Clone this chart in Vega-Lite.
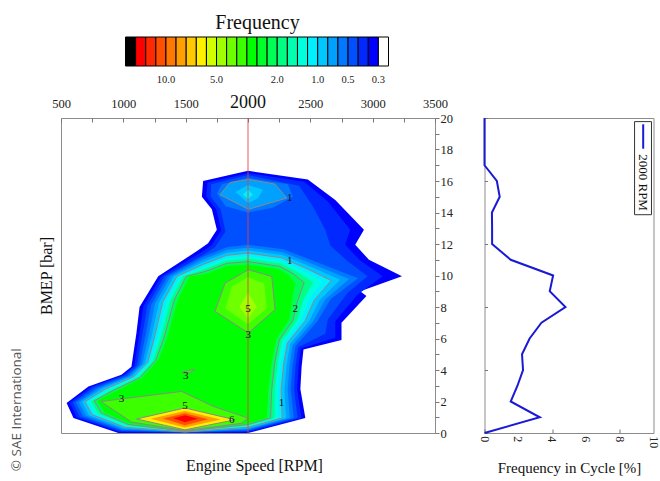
{
  "$schema": "https://vega.github.io/schema/vega-lite/v6.json",
  "background": "white",
  "padding": {"left": 9, "top": 13, "right": 5, "bottom": 5},
  "config": {
    "font": "Liberation Serif",
    "axis": {"grid": false, "labelColor": "#222", "titleColor": "#111", "titleFontWeight": "normal", "tickColor": "#777", "labelFlush": false, "labelOverlap": false},
    "view": {"stroke": "#8c8c8c"}
  },
  "datasets": {
    "poly": [
      {"p":"a01","r":24,"o":1,"x":545,"y":1.9},{"p":"a01","r":24,"o":2,"x":600,"y":0.95},{"p":"a01","r":24,"o":3,"x":960,"y":0},{"p":"a01","r":24,"o":4,"x":2000,"y":0},{"p":"a01","r":24,"o":5,"x":2460,"y":0.95},{"p":"a01","r":24,"o":6,"x":2420,"y":2.8},{"p":"a01","r":24,"o":7,"x":2430,"y":4.2},{"p":"a01","r":24,"o":8,"x":2445,"y":5.3},{"p":"a01","r":24,"o":9,"x":2750,"y":5.9},{"p":"a01","r":24,"o":10,"x":2750,"y":7.0},{"p":"a01","r":24,"o":11,"x":2950,"y":8.7},{"p":"a01","r":24,"o":12,"x":2900,"y":9.0},{"p":"a01","r":24,"o":13,"x":3235,"y":9.95},{"p":"a01","r":24,"o":14,"x":2970,"y":11.0},{"p":"a01","r":24,"o":15,"x":2860,"y":11.95},{"p":"a01","r":24,"o":16,"x":2930,"y":12.9},{"p":"a01","r":24,"o":17,"x":2700,"y":14.8},{"p":"a01","r":24,"o":18,"x":2480,"y":16.1},{"p":"a01","r":24,"o":19,"x":2000,"y":16.65},{"p":"a01","r":24,"o":20,"x":1640,"y":16.0},{"p":"a01","r":24,"o":21,"x":1630,"y":15.0},{"p":"a01","r":24,"o":22,"x":1710,"y":14.2},{"p":"a01","r":24,"o":23,"x":1750,"y":12.9},{"p":"a01","r":24,"o":24,"x":1680,"y":12.05},{"p":"a01","r":24,"o":25,"x":1600,"y":11.6},{"p":"a01","r":24,"o":26,"x":1280,"y":9.95},{"p":"a01","r":24,"o":27,"x":1130,"y":8.0},{"p":"a01","r":24,"o":28,"x":1105,"y":6.35},{"p":"a01","r":24,"o":29,"x":1065,"y":4.2},{"p":"a01","r":24,"o":30,"x":985,"y":3.7},{"p":"a01","r":24,"o":31,"x":720,"y":2.95},
      {"p":"a02","r":23,"o":1,"x":570,"y":1.92},{"p":"a02","r":23,"o":2,"x":625,"y":0.99},{"p":"a02","r":23,"o":3,"x":969,"y":0.06},{"p":"a02","r":23,"o":4,"x":1494,"y":0.01},{"p":"a02","r":23,"o":5,"x":2000,"y":0.06},{"p":"a02","r":23,"o":6,"x":2429,"y":0.95},{"p":"a02","r":23,"o":7,"x":2394,"y":2.8},{"p":"a02","r":23,"o":8,"x":2406,"y":4.23},{"p":"a02","r":23,"o":9,"x":2424,"y":5.37},{"p":"a02","r":23,"o":10,"x":2700,"y":6.05},{"p":"a02","r":23,"o":11,"x":2700,"y":7.1},{"p":"a02","r":23,"o":12,"x":2880,"y":8.8},{"p":"a02","r":23,"o":13,"x":3080,"y":9.95},{"p":"a02","r":23,"o":14,"x":2900,"y":10.95},{"p":"a02","r":23,"o":15,"x":2780,"y":11.95},{"p":"a02","r":23,"o":16,"x":2820,"y":12.9},{"p":"a02","r":23,"o":17,"x":2640,"y":14.7},{"p":"a02","r":23,"o":18,"x":2450,"y":15.95},{"p":"a02","r":23,"o":19,"x":2000,"y":16.5},{"p":"a02","r":23,"o":20,"x":1675,"y":15.9},{"p":"a02","r":23,"o":21,"x":1665,"y":15.0},{"p":"a02","r":23,"o":22,"x":1745,"y":14.2},{"p":"a02","r":23,"o":23,"x":1785,"y":12.85},{"p":"a02","r":23,"o":24,"x":1705,"y":11.9},{"p":"a02","r":23,"o":25,"x":1620,"y":11.45},{"p":"a02","r":23,"o":26,"x":1305,"y":9.95},{"p":"a02","r":23,"o":27,"x":1161,"y":8.05},{"p":"a02","r":23,"o":28,"x":1130,"y":6.32},{"p":"a02","r":23,"o":29,"x":1087,"y":4.25},{"p":"a02","r":23,"o":30,"x":1002,"y":3.68},{"p":"a02","r":23,"o":31,"x":743,"y":2.93},
      {"p":"a03","r":22,"o":1,"x":594,"y":1.93},{"p":"a03","r":22,"o":2,"x":650,"y":1.02},{"p":"a03","r":22,"o":3,"x":978,"y":0.12},{"p":"a03","r":22,"o":4,"x":1494,"y":0.02},{"p":"a03","r":22,"o":5,"x":2000,"y":0.12},{"p":"a03","r":22,"o":6,"x":2398,"y":0.95},{"p":"a03","r":22,"o":7,"x":2369,"y":2.79},{"p":"a03","r":22,"o":8,"x":2382,"y":4.26},{"p":"a03","r":22,"o":9,"x":2402,"y":5.44},{"p":"a03","r":22,"o":10,"x":2620,"y":6.3},{"p":"a03","r":22,"o":11,"x":2640,"y":7.2},{"p":"a03","r":22,"o":12,"x":2800,"y":8.9},{"p":"a03","r":22,"o":13,"x":2960,"y":9.95},{"p":"a03","r":22,"o":14,"x":2800,"y":10.9},{"p":"a03","r":22,"o":15,"x":2660,"y":11.9},{"p":"a03","r":22,"o":16,"x":2620,"y":12.9},{"p":"a03","r":22,"o":17,"x":2520,"y":14.4},{"p":"a03","r":22,"o":18,"x":2410,"y":15.7},{"p":"a03","r":22,"o":19,"x":2000,"y":16.38},{"p":"a03","r":22,"o":20,"x":1705,"y":15.8},{"p":"a03","r":22,"o":21,"x":1700,"y":15.0},{"p":"a03","r":22,"o":22,"x":1780,"y":14.2},{"p":"a03","r":22,"o":23,"x":1820,"y":12.8},{"p":"a03","r":22,"o":24,"x":1735,"y":11.8},{"p":"a03","r":22,"o":25,"x":1640,"y":11.3},{"p":"a03","r":22,"o":26,"x":1330,"y":9.95},{"p":"a03","r":22,"o":27,"x":1192,"y":8.1},{"p":"a03","r":22,"o":28,"x":1154,"y":6.28},{"p":"a03","r":22,"o":29,"x":1108,"y":4.29},{"p":"a03","r":22,"o":30,"x":1018,"y":3.66},{"p":"a03","r":22,"o":31,"x":766,"y":2.9},
      {"p":"a04","r":21,"o":1,"x":1750,"y":15.2},{"p":"a04","r":21,"o":2,"x":1790,"y":15.8},{"p":"a04","r":21,"o":3,"x":2000,"y":16.2},{"p":"a04","r":21,"o":4,"x":2320,"y":15.8},{"p":"a04","r":21,"o":5,"x":2360,"y":15.0},{"p":"a04","r":21,"o":6,"x":2200,"y":14.3},{"p":"a04","r":21,"o":7,"x":2000,"y":14.0},{"p":"a04","r":21,"o":8,"x":1820,"y":14.4},
      {"p":"a05","r":20,"o":1,"x":1775,"y":15.13},{"p":"a05","r":20,"o":2,"x":1856,"y":15.9},{"p":"a05","r":20,"o":3,"x":2004,"y":16.1},{"p":"a05","r":20,"o":4,"x":2217,"y":15.8},{"p":"a05","r":20,"o":5,"x":2311,"y":14.92},{"p":"a05","r":20,"o":6,"x":2004,"y":14.2},
      {"p":"a06","r":19,"o":1,"x":1900,"y":15.3},{"p":"a06","r":19,"o":2,"x":2000,"y":15.75},{"p":"a06","r":19,"o":3,"x":2120,"y":15.45},{"p":"a06","r":19,"o":4,"x":2080,"y":14.9},{"p":"a06","r":19,"o":5,"x":2000,"y":14.6},
      {"p":"a07","r":18,"o":1,"x":1960,"y":15.15},{"p":"a07","r":18,"o":2,"x":2000,"y":15.45},{"p":"a07","r":18,"o":3,"x":2040,"y":15.15},{"p":"a07","r":18,"o":4,"x":2000,"y":14.85},
      {"p":"a08","r":21,"o":1,"x":619,"y":1.95},{"p":"a08","r":21,"o":2,"x":675,"y":1.06},{"p":"a08","r":21,"o":3,"x":987,"y":0.18},{"p":"a08","r":21,"o":4,"x":1494,"y":0.04},{"p":"a08","r":21,"o":5,"x":2000,"y":0.18},{"p":"a08","r":21,"o":6,"x":2367,"y":0.95},{"p":"a08","r":21,"o":7,"x":2343,"y":2.79},{"p":"a08","r":21,"o":8,"x":2358,"y":4.29},{"p":"a08","r":21,"o":9,"x":2381,"y":5.51},{"p":"a08","r":21,"o":10,"x":2554,"y":7.06},{"p":"a08","r":21,"o":11,"x":2665,"y":8.51},{"p":"a08","r":21,"o":12,"x":2883,"y":9.82},{"p":"a08","r":21,"o":13,"x":2554,"y":10.84},{"p":"a08","r":21,"o":14,"x":2285,"y":11.66},{"p":"a08","r":21,"o":15,"x":2000,"y":11.96},{"p":"a08","r":21,"o":16,"x":1830,"y":11.79},{"p":"a08","r":21,"o":17,"x":1625,"y":11.15},{"p":"a08","r":21,"o":18,"x":1355,"y":9.95},{"p":"a08","r":21,"o":19,"x":1223,"y":8.15},{"p":"a08","r":21,"o":20,"x":1179,"y":6.25},{"p":"a08","r":21,"o":21,"x":1130,"y":4.34},{"p":"a08","r":21,"o":22,"x":1035,"y":3.64},{"p":"a08","r":21,"o":23,"x":789,"y":2.88},
      {"p":"a09","r":20,"o":1,"x":643,"y":1.96},{"p":"a09","r":20,"o":2,"x":700,"y":1.09},{"p":"a09","r":20,"o":3,"x":996,"y":0.24},{"p":"a09","r":20,"o":4,"x":1494,"y":0.05},{"p":"a09","r":20,"o":5,"x":2000,"y":0.24},{"p":"a09","r":20,"o":6,"x":2336,"y":0.95},{"p":"a09","r":20,"o":7,"x":2318,"y":2.78},{"p":"a09","r":20,"o":8,"x":2334,"y":4.32},{"p":"a09","r":20,"o":9,"x":2359,"y":5.58},{"p":"a09","r":20,"o":10,"x":2522,"y":7.08},{"p":"a09","r":20,"o":11,"x":2620,"y":8.48},{"p":"a09","r":20,"o":12,"x":2811,"y":9.77},{"p":"a09","r":20,"o":13,"x":2522,"y":10.72},{"p":"a09","r":20,"o":14,"x":2280,"y":11.48},{"p":"a09","r":20,"o":15,"x":2000,"y":11.78},{"p":"a09","r":20,"o":16,"x":1830,"y":11.62},{"p":"a09","r":20,"o":17,"x":1630,"y":11.0},{"p":"a09","r":20,"o":18,"x":1380,"y":9.95},{"p":"a09","r":20,"o":19,"x":1254,"y":8.2},{"p":"a09","r":20,"o":20,"x":1203,"y":6.21},{"p":"a09","r":20,"o":21,"x":1151,"y":4.38},{"p":"a09","r":20,"o":22,"x":1051,"y":3.62},{"p":"a09","r":20,"o":23,"x":812,"y":2.85},
      {"p":"a10","r":19,"o":1,"x":668,"y":1.98},{"p":"a10","r":19,"o":2,"x":725,"y":1.13},{"p":"a10","r":19,"o":3,"x":1005,"y":0.3},{"p":"a10","r":19,"o":4,"x":1494,"y":0.06},{"p":"a10","r":19,"o":5,"x":2000,"y":0.3},{"p":"a10","r":19,"o":6,"x":2305,"y":0.95},{"p":"a10","r":19,"o":7,"x":2292,"y":2.78},{"p":"a10","r":19,"o":8,"x":2310,"y":4.35},{"p":"a10","r":19,"o":9,"x":2338,"y":5.65},{"p":"a10","r":19,"o":10,"x":2490,"y":7.1},{"p":"a10","r":19,"o":11,"x":2575,"y":8.45},{"p":"a10","r":19,"o":12,"x":2739,"y":9.73},{"p":"a10","r":19,"o":13,"x":2490,"y":10.6},{"p":"a10","r":19,"o":14,"x":2275,"y":11.3},{"p":"a10","r":19,"o":15,"x":2000,"y":11.6},{"p":"a10","r":19,"o":16,"x":1830,"y":11.45},{"p":"a10","r":19,"o":17,"x":1635,"y":10.85},{"p":"a10","r":19,"o":18,"x":1405,"y":9.95},{"p":"a10","r":19,"o":19,"x":1285,"y":8.25},{"p":"a10","r":19,"o":20,"x":1228,"y":6.18},{"p":"a10","r":19,"o":21,"x":1173,"y":4.43},{"p":"a10","r":19,"o":22,"x":1068,"y":3.6},{"p":"a10","r":19,"o":23,"x":835,"y":2.83},
      {"p":"a11","r":18,"o":1,"x":692,"y":1.99},{"p":"a11","r":18,"o":2,"x":750,"y":1.16},{"p":"a11","r":18,"o":3,"x":1014,"y":0.36},{"p":"a11","r":18,"o":4,"x":1494,"y":0.07},{"p":"a11","r":18,"o":5,"x":2000,"y":0.36},{"p":"a11","r":18,"o":6,"x":2274,"y":0.95},{"p":"a11","r":18,"o":7,"x":2266,"y":2.77},{"p":"a11","r":18,"o":8,"x":2286,"y":4.38},{"p":"a11","r":18,"o":9,"x":2316,"y":5.72},{"p":"a11","r":18,"o":10,"x":2458,"y":7.12},{"p":"a11","r":18,"o":11,"x":2530,"y":8.42},{"p":"a11","r":18,"o":12,"x":2667,"y":9.68},{"p":"a11","r":18,"o":13,"x":2458,"y":10.48},{"p":"a11","r":18,"o":14,"x":2270,"y":11.12},{"p":"a11","r":18,"o":15,"x":2000,"y":11.42},{"p":"a11","r":18,"o":16,"x":1830,"y":11.28},{"p":"a11","r":18,"o":17,"x":1640,"y":10.7},{"p":"a11","r":18,"o":18,"x":1430,"y":9.95},{"p":"a11","r":18,"o":19,"x":1316,"y":8.3},{"p":"a11","r":18,"o":20,"x":1252,"y":6.14},{"p":"a11","r":18,"o":21,"x":1195,"y":4.47},{"p":"a11","r":18,"o":22,"x":1084,"y":3.58},{"p":"a11","r":18,"o":23,"x":858,"y":2.8},
      {"p":"a12","r":17,"o":1,"x":717,"y":2.0},{"p":"a12","r":17,"o":2,"x":775,"y":1.2},{"p":"a12","r":17,"o":3,"x":1023,"y":0.42},{"p":"a12","r":17,"o":4,"x":1494,"y":0.08},{"p":"a12","r":17,"o":5,"x":2000,"y":0.42},{"p":"a12","r":17,"o":6,"x":2243,"y":0.95},{"p":"a12","r":17,"o":7,"x":2241,"y":2.77},{"p":"a12","r":17,"o":8,"x":2262,"y":4.41},{"p":"a12","r":17,"o":9,"x":2295,"y":5.79},{"p":"a12","r":17,"o":10,"x":2426,"y":7.14},{"p":"a12","r":17,"o":11,"x":2485,"y":8.39},{"p":"a12","r":17,"o":12,"x":2595,"y":9.64},{"p":"a12","r":17,"o":13,"x":2426,"y":10.36},{"p":"a12","r":17,"o":14,"x":2265,"y":10.94},{"p":"a12","r":17,"o":15,"x":2000,"y":11.24},{"p":"a12","r":17,"o":16,"x":1830,"y":11.11},{"p":"a12","r":17,"o":17,"x":1645,"y":10.55},{"p":"a12","r":17,"o":18,"x":1455,"y":9.95},{"p":"a12","r":17,"o":19,"x":1347,"y":8.35},{"p":"a12","r":17,"o":20,"x":1277,"y":6.11},{"p":"a12","r":17,"o":21,"x":1216,"y":4.52},{"p":"a12","r":17,"o":22,"x":1101,"y":3.56},{"p":"a12","r":17,"o":23,"x":881,"y":2.78},
      {"p":"a13","r":15,"o":1,"x":741,"y":2.02},{"p":"a13","r":15,"o":2,"x":800,"y":1.23},{"p":"a13","r":15,"o":3,"x":1032,"y":0.48},{"p":"a13","r":15,"o":4,"x":1494,"y":0.1},{"p":"a13","r":15,"o":5,"x":2000,"y":0.48},{"p":"a13","r":15,"o":6,"x":2212,"y":0.95},{"p":"a13","r":15,"o":7,"x":2215,"y":2.76},{"p":"a13","r":15,"o":8,"x":2238,"y":4.44},{"p":"a13","r":15,"o":9,"x":2273,"y":5.86},{"p":"a13","r":15,"o":10,"x":2394,"y":7.16},{"p":"a13","r":15,"o":11,"x":2440,"y":8.36},{"p":"a13","r":15,"o":12,"x":2522,"y":9.59},{"p":"a13","r":15,"o":13,"x":2394,"y":10.24},{"p":"a13","r":15,"o":14,"x":2260,"y":10.76},{"p":"a13","r":15,"o":15,"x":2000,"y":11.06},{"p":"a13","r":15,"o":16,"x":1830,"y":10.94},{"p":"a13","r":15,"o":17,"x":1650,"y":10.4},{"p":"a13","r":15,"o":18,"x":1480,"y":9.95},{"p":"a13","r":15,"o":19,"x":1378,"y":8.4},{"p":"a13","r":15,"o":20,"x":1301,"y":6.07},{"p":"a13","r":15,"o":21,"x":1238,"y":4.56},{"p":"a13","r":15,"o":22,"x":1117,"y":3.54},{"p":"a13","r":15,"o":23,"x":904,"y":2.75},
      {"p":"a14","r":14,"o":1,"x":766,"y":2.04},{"p":"a14","r":14,"o":2,"x":825,"y":1.27},{"p":"a14","r":14,"o":3,"x":1041,"y":0.54},{"p":"a14","r":14,"o":4,"x":1494,"y":0.11},{"p":"a14","r":14,"o":5,"x":2000,"y":0.54},{"p":"a14","r":14,"o":6,"x":2181,"y":0.95},{"p":"a14","r":14,"o":7,"x":2190,"y":2.76},{"p":"a14","r":14,"o":8,"x":2214,"y":4.47},{"p":"a14","r":14,"o":9,"x":2252,"y":5.93},{"p":"a14","r":14,"o":10,"x":2362,"y":7.18},{"p":"a14","r":14,"o":11,"x":2395,"y":8.33},{"p":"a14","r":14,"o":12,"x":2450,"y":9.55},{"p":"a14","r":14,"o":13,"x":2362,"y":10.12},{"p":"a14","r":14,"o":14,"x":2255,"y":10.58},{"p":"a14","r":14,"o":15,"x":2000,"y":10.88},{"p":"a14","r":14,"o":16,"x":1830,"y":10.77},{"p":"a14","r":14,"o":17,"x":1655,"y":10.25},{"p":"a14","r":14,"o":18,"x":1505,"y":9.95},{"p":"a14","r":14,"o":19,"x":1409,"y":8.45},{"p":"a14","r":14,"o":20,"x":1326,"y":6.04},{"p":"a14","r":14,"o":21,"x":1259,"y":4.61},{"p":"a14","r":14,"o":22,"x":1134,"y":3.52},{"p":"a14","r":14,"o":23,"x":927,"y":2.73},
      {"p":"a15","r":12,"o":1,"x":790,"y":2.05},{"p":"a15","r":12,"o":2,"x":850,"y":1.3},{"p":"a15","r":12,"o":3,"x":1050,"y":0.6},{"p":"a15","r":12,"o":4,"x":1494,"y":0.12},{"p":"a15","r":12,"o":5,"x":2000,"y":0.6},{"p":"a15","r":12,"o":6,"x":2150,"y":0.95},{"p":"a15","r":12,"o":7,"x":2164,"y":2.75},{"p":"a15","r":12,"o":8,"x":2190,"y":4.5},{"p":"a15","r":12,"o":9,"x":2230,"y":6.0},{"p":"a15","r":12,"o":10,"x":2330,"y":7.2},{"p":"a15","r":12,"o":11,"x":2350,"y":8.3},{"p":"a15","r":12,"o":12,"x":2378,"y":9.5},{"p":"a15","r":12,"o":13,"x":2330,"y":10.0},{"p":"a15","r":12,"o":14,"x":2250,"y":10.4},{"p":"a15","r":12,"o":15,"x":2000,"y":10.7},{"p":"a15","r":12,"o":16,"x":1830,"y":10.6},{"p":"a15","r":12,"o":17,"x":1660,"y":10.1},{"p":"a15","r":12,"o":18,"x":1530,"y":9.95},{"p":"a15","r":12,"o":19,"x":1440,"y":8.5},{"p":"a15","r":12,"o":20,"x":1350,"y":6.0},{"p":"a15","r":12,"o":21,"x":1281,"y":4.65},{"p":"a15","r":12,"o":22,"x":1150,"y":3.5},{"p":"a15","r":12,"o":23,"x":950,"y":2.7},
      {"p":"a16","r":11,"o":1,"x":1735,"y":7.72},{"p":"a16","r":11,"o":2,"x":1816,"y":9.52},{"p":"a16","r":11,"o":3,"x":2003,"y":10.37},{"p":"a16","r":11,"o":4,"x":2191,"y":9.94},{"p":"a16","r":11,"o":5,"x":2217,"y":7.83},{"p":"a16","r":11,"o":6,"x":2003,"y":6.35},
      {"p":"a17","r":10,"o":1,"x":1820,"y":7.9},{"p":"a17","r":10,"o":2,"x":1870,"y":9.3},{"p":"a17","r":10,"o":3,"x":2000,"y":9.9},{"p":"a17","r":10,"o":4,"x":2130,"y":9.5},{"p":"a17","r":10,"o":5,"x":2150,"y":7.9},{"p":"a17","r":10,"o":6,"x":2000,"y":6.9},
      {"p":"a18","r":9,"o":1,"x":1930,"y":8.0},{"p":"a18","r":9,"o":2,"x":2000,"y":8.9},{"p":"a18","r":9,"o":3,"x":2070,"y":8.0},{"p":"a18","r":9,"o":4,"x":2000,"y":7.3},
      {"p":"a19","r":11,"o":1,"x":820,"y":2.0},{"p":"a19","r":11,"o":2,"x":1468,"y":2.64},{"p":"a19","r":11,"o":3,"x":1722,"y":1.69},{"p":"a19","r":11,"o":4,"x":2000,"y":0.95},{"p":"a19","r":11,"o":5,"x":1950,"y":0.62},{"p":"a19","r":11,"o":6,"x":1494,"y":0.15},{"p":"a19","r":11,"o":7,"x":1066,"y":0.7},
      {"p":"a20","r":7,"o":1,"x":1106,"y":0.89},{"p":"a20","r":7,"o":2,"x":1494,"y":1.59},{"p":"a20","r":7,"o":3,"x":1896,"y":0.84},{"p":"a20","r":7,"o":4,"x":1494,"y":0.2},
      {"p":"a21","r":5,"o":1,"x":1220,"y":0.9},{"p":"a21","r":5,"o":2,"x":1494,"y":1.4},{"p":"a21","r":5,"o":3,"x":1780,"y":0.86},{"p":"a21","r":5,"o":4,"x":1494,"y":0.35},
      {"p":"a22","r":3,"o":1,"x":1320,"y":0.92},{"p":"a22","r":3,"o":2,"x":1494,"y":1.25},{"p":"a22","r":3,"o":3,"x":1680,"y":0.88},{"p":"a22","r":3,"o":4,"x":1494,"y":0.5},
      {"p":"a23","r":1,"o":1,"x":1400,"y":0.93},{"p":"a23","r":1,"o":2,"x":1494,"y":1.12},{"p":"a23","r":1,"o":3,"x":1600,"y":0.9},{"p":"a23","r":1,"o":4,"x":1494,"y":0.68},
      {"p":"a24","r":11,"o":1,"x":1470,"y":3.85},{"p":"a24","r":11,"o":2,"x":1570,"y":4.05},{"p":"a24","r":11,"o":3,"x":1540,"y":3.85}
    ],
    "lab": [
      {"x":2335,"y":14.9,"t":"1"},{"x":2335,"y":10.95,"t":"1"},{"x":2268,"y":1.9,"t":"1"},{"x":2380,"y":7.9,"t":"2"},{"x":2003,"y":6.2,"t":"3"},{"x":2000,"y":7.85,"t":"5"},{"x":1500,"y":3.65,"t":"3"},{"x":986,"y":2.15,"t":"3"},{"x":1494,"y":1.72,"t":"5"},{"x":1870,"y":0.84,"t":"6"}
    ],
    "side": [
      {"b":0,"f":0},{"b":1,"f":3.27},{"b":2,"f":1.55},{"b":3,"f":1.95},{"b":4,"f":2.28},{"b":5,"f":2.22},{"b":6,"f":2.67},{"b":7,"f":3.37},{"b":8,"f":4.79},{"b":9,"f":3.86},{"b":10,"f":4.06},{"b":11,"f":1.55},{"b":12,"f":0.45},{"b":13,"f":0.45},{"b":14,"f":0.44},{"b":15,"f":0.9},{"b":16,"f":0.73},{"b":17,"f":0},{"b":18,"f":0},{"b":19,"f":0},{"b":20,"f":0}
    ],
    "sidelab": [{"f":0,"t":"0"},{"f":2,"t":"2"},{"f":4,"t":"4"},{"f":6,"t":"6"},{"f":8,"t":"8"},{"f":10,"t":"10"}]
  },
  "spacing": 49.5,
  "bounds": "flush",
  "hconcat": [
    {
      "width": 374,
      "height": 315,
      "layer": [
        {
          "data": {"name": "poly"},
          "mark": {"type": "line", "filled": true, "interpolate": "linear-closed"},
          "encoding": {
            "x": {"field": "x", "type": "quantitative", "scale": {"domain": [500, 3500], "nice": false, "zero": false},
              "axis": {"orient": "top", "title": null, "domain": false, "values": [500,750,1000,1250,1500,1750,2000,2250,2500,2750,3000,3250,3500], "format": "d", "labelExpr": "datum.value % 500 == 0 && datum.value != 2000 ? datum.label : ''", "tickSize": -4, "labelPadding": 12, "labelFontSize": 12.5}},
            "y": {"field": "y", "type": "quantitative", "scale": {"domain": [0, 20], "nice": false, "zero": false},
              "axis": {"orient": "right", "title": null, "domain": false, "values": [0,1,2,3,4,5,6,7,8,9,10,11,12,13,14,15,16,17,18,19,20], "format": "d", "labelExpr": "datum.value % 2 == 0 ? datum.label : ''", "tickSize": 4, "labelPadding": 1, "labelFontSize": 12.5}},
            "color": {"field": "r", "type": "quantitative",
              "scale": {"type": "threshold", "domain": [1,2,3,4,5,6,7,8,9,10,11,12,13,14,15,16,17,18,19,20,21,22,23,24,25],
                "range": ["#000000","#ff0000","#ff2800","#ff5000","#ff7800","#ffa000","#ffc800","#fff000","#d2ff00","#a0ff00","#6eff00","#3cff00","#00ff00","#00ff28","#00ff55","#00ff82","#00ffaf","#00ffdc","#00f0ff","#00c8ff","#00a0ff","#0078ff","#0050ff","#0028ff","#0000ff","#ffffff"]},
              "legend": {"orient": "none", "legendX": 64.5, "legendY": -105, "direction": "horizontal", "type": "gradient", "gradientLength": 263, "gradientThickness": 29, "gradientStrokeColor": "#000", "gradientStrokeWidth": 1, "title": "Frequency", "titleFontSize": 20, "titleFontWeight": "normal", "titleAnchor": "middle", "titleColor": "#111", "titlePadding": 4, "labelFontSize": 10.5, "labelColor": "#222", "labelOverlap": false, "labelOffset": 9,
                "labelExpr": "datum.value == 4 ? '10.0' : datum.value == 9 ? '5.0' : datum.value == 15 ? '2.0' : datum.value == 19 ? '1.0' : datum.value == 22 ? '0.5' : datum.value == 25 ? '0.3' : ''"}},
            "detail": {"field": "p"},
            "order": {"field": "o"}
          }
        },
        {
          "data": {"name": "poly"},
          "transform": [{"filter": {"field": "p", "oneOf": ["a05","a11","a14","a16","a19","a20","a24"]}}],
          "mark": {"type": "line", "interpolate": "linear-closed", "stroke": "#8a8a8a", "strokeWidth": 1},
          "encoding": {
            "x": {"field": "x", "type": "quantitative", "scale": {"domain": [500, 3500], "nice": false, "zero": false}, "axis": null},
            "y": {"field": "y", "type": "quantitative", "scale": {"domain": [0, 20], "nice": false, "zero": false}, "axis": null},
            "detail": {"field": "p"},
            "order": {"field": "o"}
          }
        },
        {
          "data": {"values": [{}]},
          "mark": {"type": "rule", "color": "#e04040", "strokeWidth": 1, "opacity": 0.85},
          "encoding": {
            "x": {"datum": 2000, "type": "quantitative", "scale": {"domain": [500, 3500], "nice": false, "zero": false},
              "axis": {"orient": "bottom", "labels": false, "ticks": false, "domain": false, "title": "Engine Speed [RPM]", "titleFontSize": 16, "titlePadding": 24, "titleX": 193}},
            "y": {"datum": 0, "type": "quantitative", "scale": {"domain": [0, 20], "nice": false, "zero": false},
              "axis": {"orient": "left", "labels": false, "ticks": false, "domain": false, "title": "BMEP [bar]", "titleFontSize": 16, "titlePadding": 7}},
            "y2": {"datum": 20}
          }
        },
        {
          "data": {"name": "lab"},
          "mark": {"type": "text", "fontSize": 11, "color": "#111"},
          "encoding": {
            "x": {"field": "x", "type": "quantitative", "scale": {"domain": [500, 3500], "nice": false, "zero": false}, "axis": null},
            "y": {"field": "y", "type": "quantitative", "scale": {"domain": [0, 20], "nice": false, "zero": false}, "axis": null},
            "text": {"field": "t"}
          }
        },
        {
          "data": {"values": [{}]},
          "mark": {"type": "text", "fontSize": 18, "dy": -15, "color": "#111"},
          "encoding": {
            "x": {"datum": 2000, "type": "quantitative", "axis": null},
            "y": {"datum": 20, "type": "quantitative", "axis": null},
            "text": {"value": "2000"}
          }
        },
        {
          "data": {"values": [{}]},
          "mark": {"type": "text", "fontSize": 13.5, "font": "Open Sans", "angle": 270, "color": "#555", "align": "center", "baseline": "middle"},
          "encoding": {
            "x": {"datum": 150, "type": "quantitative", "axis": null},
            "y": {"datum": 1.48, "type": "quantitative", "axis": null},
            "text": {"value": "© SAE International"}
          }
        }
      ],
      "resolve": {"axis": {"x": "independent", "y": "independent"}}
    },
    {
      "width": 169,
      "height": 315,
      "layer": [
        {
          "data": {"name": "side"},
          "mark": {"type": "line", "color": "#1a1ad6", "strokeWidth": 2},
          "encoding": {
            "x": {"field": "f", "type": "quantitative", "scale": {"domain": [0, 10], "nice": false},
              "axis": {"orient": "bottom", "title": "Frequency in Cycle [%]", "titleFontSize": 15, "titlePadding": 27, "domain": false, "values": [0,1,2,3,4,5,6,7,8,9,10], "labels": false, "tickSize": -4}},
            "y": {"field": "b", "type": "quantitative", "scale": {"domain": [0, 20], "nice": false},
              "axis": {"orient": "left", "title": null, "labels": false, "domain": false, "values": [0,1,2,3,4,5,6,7,8,9,10,11,12,13,14,15,16,17,18,19,20], "tickSize": -3}},
            "order": {"field": "b"}
          }
        },
        {
          "data": {"name": "sidelab"},
          "mark": {"type": "text", "angle": 90, "fontSize": 12, "align": "left", "baseline": "middle", "color": "#222"},
          "encoding": {
            "x": {"field": "f", "type": "quantitative"},
            "y": {"datum": -0.2, "type": "quantitative"},
            "text": {"field": "t"}
          }
        },
        {
          "data": {"values": [{}]},
          "mark": {"type": "rect", "fill": "white", "stroke": "#333", "strokeWidth": 1},
          "encoding": {
            "x": {"datum": 8.88, "type": "quantitative"},
            "x2": {"datum": 9.88},
            "y": {"datum": 13.86, "type": "quantitative"},
            "y2": {"datum": 19.77}
          }
        },
        {
          "data": {"values": [{}]},
          "mark": {"type": "rule", "color": "#1a1ad6", "strokeWidth": 2},
          "encoding": {
            "x": {"datum": 9.39, "type": "quantitative"},
            "y": {"datum": 18.05, "type": "quantitative"},
            "y2": {"datum": 19.6}
          }
        },
        {
          "data": {"values": [{}]},
          "mark": {"type": "text", "angle": 90, "fontSize": 13, "align": "center", "baseline": "middle", "color": "#111"},
          "encoding": {
            "x": {"datum": 9.39, "type": "quantitative"},
            "y": {"datum": 15.9, "type": "quantitative"},
            "text": {"value": "2000 RPM"}
          }
        }
      ]
    }
  ]
}
